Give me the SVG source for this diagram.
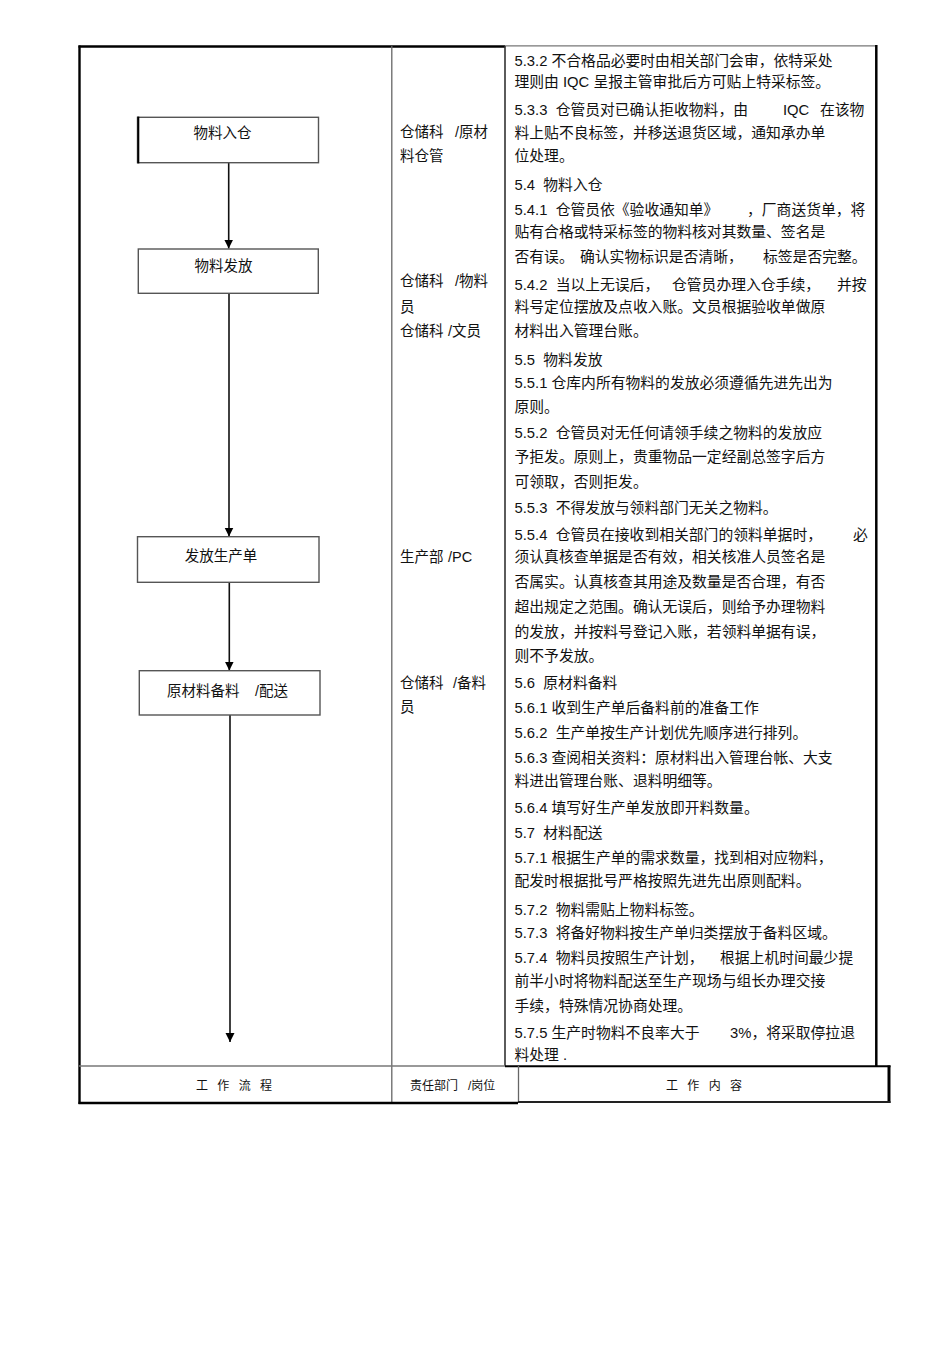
<svg xmlns="http://www.w3.org/2000/svg" width="950" height="1345" viewBox="0 0 950 1345" xml:space="preserve">
<style>
text{font-family:"Liberation Sans","Noto Sans CJK SC",sans-serif;fill:#111;white-space:pre;}
.c{font-size:14.8px;}
.m{font-size:14.5px;}
.b{font-size:14.5px;}
.h{font-size:12px;}
.box{fill:#fff;stroke:#555;stroke-width:1.4;}
.conn{stroke:#111;stroke-width:1.6;fill:none;marker-end:url(#ah);}
.thick{stroke:#000;fill:none;}
.thin{stroke:#777;fill:none;}
</style>
<defs>
<marker id="ah" viewBox="0 0 10 10" refX="10" refY="5" markerWidth="9" markerHeight="10" markerUnits="userSpaceOnUse" orient="auto"><path d="M0,0 L10,5 L0,10 z" fill="#000"/></marker>
</defs>
<rect width="950" height="1345" fill="#fff"/>
<g id="table">
<line class="thick" x1="78.5" y1="46.5" x2="505" y2="46.5" stroke-width="2.4"/>
<line class="thin" x1="505" y1="45.8" x2="877" y2="45.8" stroke-width="1.2"/>
<line class="thick" x1="79.5" y1="45.5" x2="79.5" y2="1104" stroke-width="2.4"/>
<line class="thick" x1="876.3" y1="45" x2="876.3" y2="1066" stroke-width="2.5"/>
<line x1="391.8" y1="46" x2="391.8" y2="1103" stroke="#666" stroke-width="1.3"/>
<line x1="505" y1="46" x2="505" y2="1066" stroke="#333" stroke-width="1.6"/>
<line class="thin" x1="79" y1="1066" x2="505" y2="1066" stroke-width="1.4"/>
<line class="thick" x1="505" y1="1066.3" x2="890.5" y2="1066.3" stroke-width="2"/>
<line class="thick" x1="889" y1="1065.5" x2="889" y2="1103" stroke-width="3"/>
<line x1="518.5" y1="1066" x2="518.5" y2="1103" stroke="#666" stroke-width="1.3"/>
<line x1="518" y1="1102" x2="890.5" y2="1102" stroke="#222" stroke-width="1.8"/>
<line class="thick" x1="78.5" y1="1103" x2="518" y2="1103" stroke-width="2.5"/>
</g>
<g id="connectors">
<line class="conn" x1="228.7" y1="163" x2="228.7" y2="248.5"/>
<line class="conn" x1="229" y1="293.5" x2="229" y2="536.5"/>
<line class="conn" x1="229.3" y1="582.5" x2="229.3" y2="670.5"/>
<line class="conn" x1="230" y1="715" x2="230" y2="1042"/>
</g>
<g id="node-wuliaorucang">
<rect class="box" x="137.5" y="117.3" width="181" height="45.4"/>
<line x1="138.3" y1="116.6" x2="138.3" y2="163.4" stroke="#000" stroke-width="2"/>
<text class="b" x="222.5" y="137.5" text-anchor="middle">物料入仓</text>
</g>
<g id="node-wuliaofafang">
<rect class="box" x="138.3" y="249" width="180" height="44.3"/>
<text class="b" x="223.5" y="271" text-anchor="middle">物料发放</text>
</g>
<g id="node-fafangshengchandan">
<rect class="box" x="137.5" y="536.7" width="181.5" height="45.6"/>
<text class="b" x="221" y="561" text-anchor="middle">发放生产单</text>
</g>
<g id="node-yuancailiao">
<rect class="box" x="139.3" y="670.7" width="180.7" height="44.3"/>
<text class="b" x="167" y="696">原材料备料</text>
<text class="b" x="255" y="696">/配送</text>
</g>
<g id="dept-column">
<text class="m" x="400" y="137">仓储科</text><text class="m" x="455" y="137">/原材</text>
<text class="m" x="400" y="161">料仓管</text>
<text class="m" x="400" y="286">仓储科</text><text class="m" x="455" y="286">/物料</text>
<text class="m" x="400" y="312">员</text>
<text class="m" x="400" y="336">仓储科</text><text class="m" x="448" y="336">/文员</text>
<text class="m" x="400" y="562">生产部</text><text class="m" x="448" y="562">/PC</text>
<text class="m" x="400" y="688">仓储科</text><text class="m" x="453" y="688">/备料</text>
<text class="m" x="400" y="712">员</text>
</g>
<g id="content-column">
<text class="c" x="514.5" y="66">5.3.2 不合格品必要时由相关部门会审，依特采处</text>
<text class="c" x="514.5" y="87">理则由 IQC 呈报主管审批后方可贴上特采标签。</text>
<text class="c" x="514.5" y="115">5.3.3  仓管员对已确认拒收物料，由</text><text class="c" x="783" y="115">IQC</text><text class="c" x="820" y="115">在该物</text>
<text class="c" x="514.5" y="138">料上贴不良标签，并移送退货区域，通知承办单</text>
<text class="c" x="514.5" y="161">位处理。</text>
<text class="c" x="514.5" y="190">5.4  物料入仓</text>
<text class="c" x="514.5" y="215">5.4.1  仓管员依《验收通知单》</text><text class="c" x="747" y="215">，厂商送货单，将</text>
<text class="c" x="514.5" y="237">贴有合格或特采标签的物料核对其数量、签名是</text>
<text class="c" x="514.5" y="262">否有误。</text><text class="c" x="580" y="262">确认实物标识是否清晰，</text><text class="c" x="763" y="262">标签是否完整。</text>
<text class="c" x="514.5" y="290">5.4.2  当以上无误后，</text><text class="c" x="672" y="290">仓管员办理入仓手续，</text><text class="c" x="837" y="290">并按</text>
<text class="c" x="514.5" y="312">料号定位摆放及点收入账。文员根据验收单做原</text>
<text class="c" x="514.5" y="336">材料出入管理台账。</text>
<text class="c" x="514.5" y="365">5.5  物料发放</text>
<text class="c" x="514.5" y="388">5.5.1 仓库内所有物料的发放必须遵循先进先出为</text>
<text class="c" x="514.5" y="412">原则。</text>
<text class="c" x="514.5" y="438">5.5.2  仓管员对无任何请领手续之物料的发放应</text>
<text class="c" x="514.5" y="462">予拒发。原则上，贵重物品一定经副总签字后方</text>
<text class="c" x="514.5" y="487">可领取，否则拒发。</text>
<text class="c" x="514.5" y="513">5.5.3  不得发放与领料部门无关之物料。</text>
<text class="c" x="514.5" y="540">5.5.4  仓管员在接收到相关部门的领料单据时，</text><text class="c" x="853" y="540">必</text>
<text class="c" x="514.5" y="562">须认真核查单据是否有效，相关核准人员签名是</text>
<text class="c" x="514.5" y="587">否属实。认真核查其用途及数量是否合理，有否</text>
<text class="c" x="514.5" y="612">超出规定之范围。确认无误后，则给予办理物料</text>
<text class="c" x="514.5" y="637">的发放，并按料号登记入账，若领料单据有误，</text>
<text class="c" x="514.5" y="661">则不予发放。</text>
<text class="c" x="514.5" y="688">5.6  原材料备料</text>
<text class="c" x="514.5" y="713">5.6.1 收到生产单后备料前的准备工作</text>
<text class="c" x="514.5" y="738">5.6.2  生产单按生产计划优先顺序进行排列。</text>
<text class="c" x="514.5" y="763">5.6.3 查阅相关资料：原材料出入管理台帐、大支</text>
<text class="c" x="514.5" y="786">料进出管理台账、退料明细等。</text>
<text class="c" x="514.5" y="813">5.6.4 填写好生产单发放即开料数量。</text>
<text class="c" x="514.5" y="838">5.7  材料配送</text>
<text class="c" x="514.5" y="863">5.7.1 根据生产单的需求数量，找到相对应物料，</text>
<text class="c" x="514.5" y="886">配发时根据批号严格按照先进先出原则配料。</text>
<text class="c" x="514.5" y="915">5.7.2  物料需贴上物料标签。</text>
<text class="c" x="514.5" y="938">5.7.3  将备好物料按生产单归类摆放于备料区域。</text>
<text class="c" x="514.5" y="963">5.7.4  物料员按照生产计划，</text><text class="c" x="720" y="963">根据上机时间最少提</text>
<text class="c" x="514.5" y="986">前半小时将物料配送至生产现场与组长办理交接</text>
<text class="c" x="514.5" y="1011">手续，特殊情况协商处理。</text>
<text class="c" x="514.5" y="1038">5.7.5 生产时物料不良率大于</text><text class="c" x="730" y="1038">3%，将采取停拉退</text>
<text class="c" x="514.5" y="1060">料处理 .</text>
</g>
<g id="header-row">
<text class="h" x="196 217.3 238.7 260" y="1090">工作流程</text>
<text class="h" x="410" y="1090">责任部门</text><text class="h" x="468" y="1090">/岗位</text>
<text class="h" x="666 687.3 708.7 730" y="1090">工作内容</text>
</g>
</svg>
